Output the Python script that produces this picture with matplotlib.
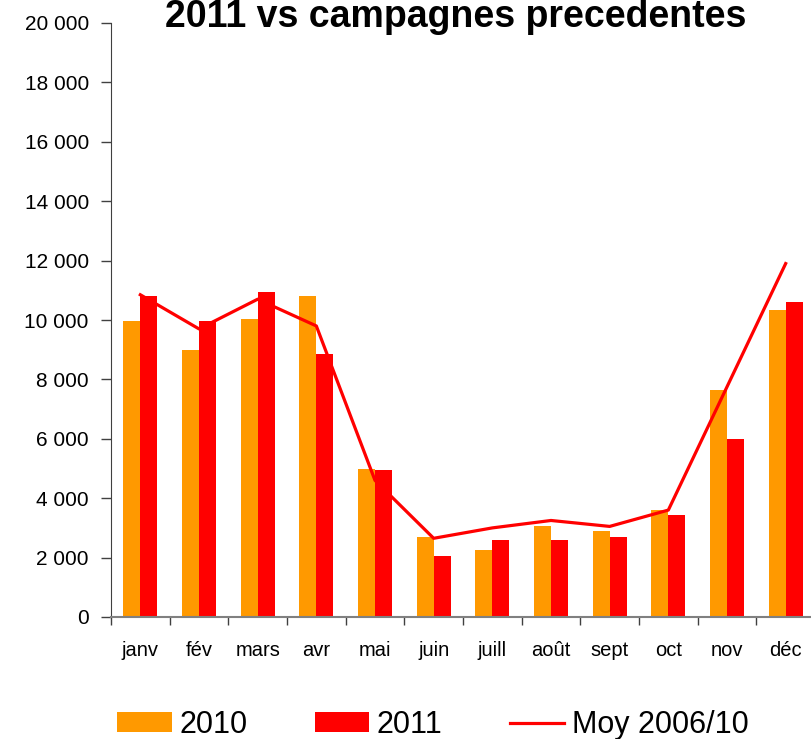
import matplotlib
matplotlib.use("Agg")
import matplotlib.pyplot as plt
from matplotlib.ticker import FuncFormatter, FixedLocator
import numpy as np

plt.rcParams['font.family'] = ['Liberation Sans', 'DejaVu Sans']

months = ['janv', 'fév', 'mars', 'avr', 'mai', 'juin', 'juill', 'août', 'sept', 'oct', 'nov', 'déc']
v2010 = [9950, 9000, 10050, 10800, 5000, 2700, 2250, 3050, 2900, 3600, 7650, 10350]
v2011 = [10800, 9950, 10950, 8850, 4950, 2050, 2600, 2600, 2700, 3450, 6000, 10600]
moy = [10850, 9700, 10700, 9800, 4600, 2650, 3000, 3250, 3050, 3600, 7750, 11900]
title = "2011 vs campagnes precedentes"

W, H = 811, 739
fig = plt.figure(figsize=(W / 100, H / 100), dpi=100)
ax = fig.add_axes([111 / W, 122 / H, 704 / W, 594 / H])

x = np.arange(len(months))
bw = 0.29
b1 = ax.bar(x - bw / 2, v2010, width=bw, color='#FF9900', label='2010', zorder=2)
b2 = ax.bar(x + bw / 2, v2011, width=bw, color='#FF0000', label='2011', zorder=2)
l1, = ax.plot(x, moy, color='#FF0000', lw=2.3, label='Moy 2006/10', zorder=3)

ax.set_xlim(-0.5, len(months) - 0.5)
ax.set_ylim(0, 20000)
ax.set_yticks(np.arange(0, 20001, 2000))
ax.yaxis.set_major_formatter(FuncFormatter(lambda v, p: f"{int(v):,}".replace(",", " ")))

# category boundaries as major ticks, labels on minor ticks
ax.xaxis.set_major_locator(FixedLocator(np.arange(-0.5, len(months), 1.0)))
ax.xaxis.set_major_formatter(FuncFormatter(lambda v, p: ""))
ax.xaxis.set_minor_locator(FixedLocator(x))
ax.set_xticklabels(months, minor=True)
ax.tick_params(axis='x', which='minor', length=0, pad=17, labelsize=14.5)
ax.tick_params(axis='x', which='major', length=6, width=1, color='#404040', direction='out')
ax.tick_params(axis='y', length=7, width=1, color='#404040', pad=9, labelsize=15)

for s in ['top', 'right']:
    ax.spines[s].set_visible(False)
ax.spines['left'].set_color('#404040')
ax.spines['bottom'].set_color('#808080')
ax.spines['bottom'].set_linewidth(1.5)

fig.text(456 / W, 1 - 27 / H, title, ha='center', va='baseline', fontsize=27, fontweight='bold')

fig.legend(handles=[b1, b2, l1], labels=['2010', '2011', 'Moy 2006/10'],
           loc='center', bbox_to_anchor=(433 / W, 1 - 725 / H), ncol=3, frameon=False,
           fontsize=22, handlelength=1.77, handleheight=0.65, handletextpad=0.26,
           columnspacing=2.2, borderpad=0, borderaxespad=0)

fig.savefig('out.png', dpi=100)
